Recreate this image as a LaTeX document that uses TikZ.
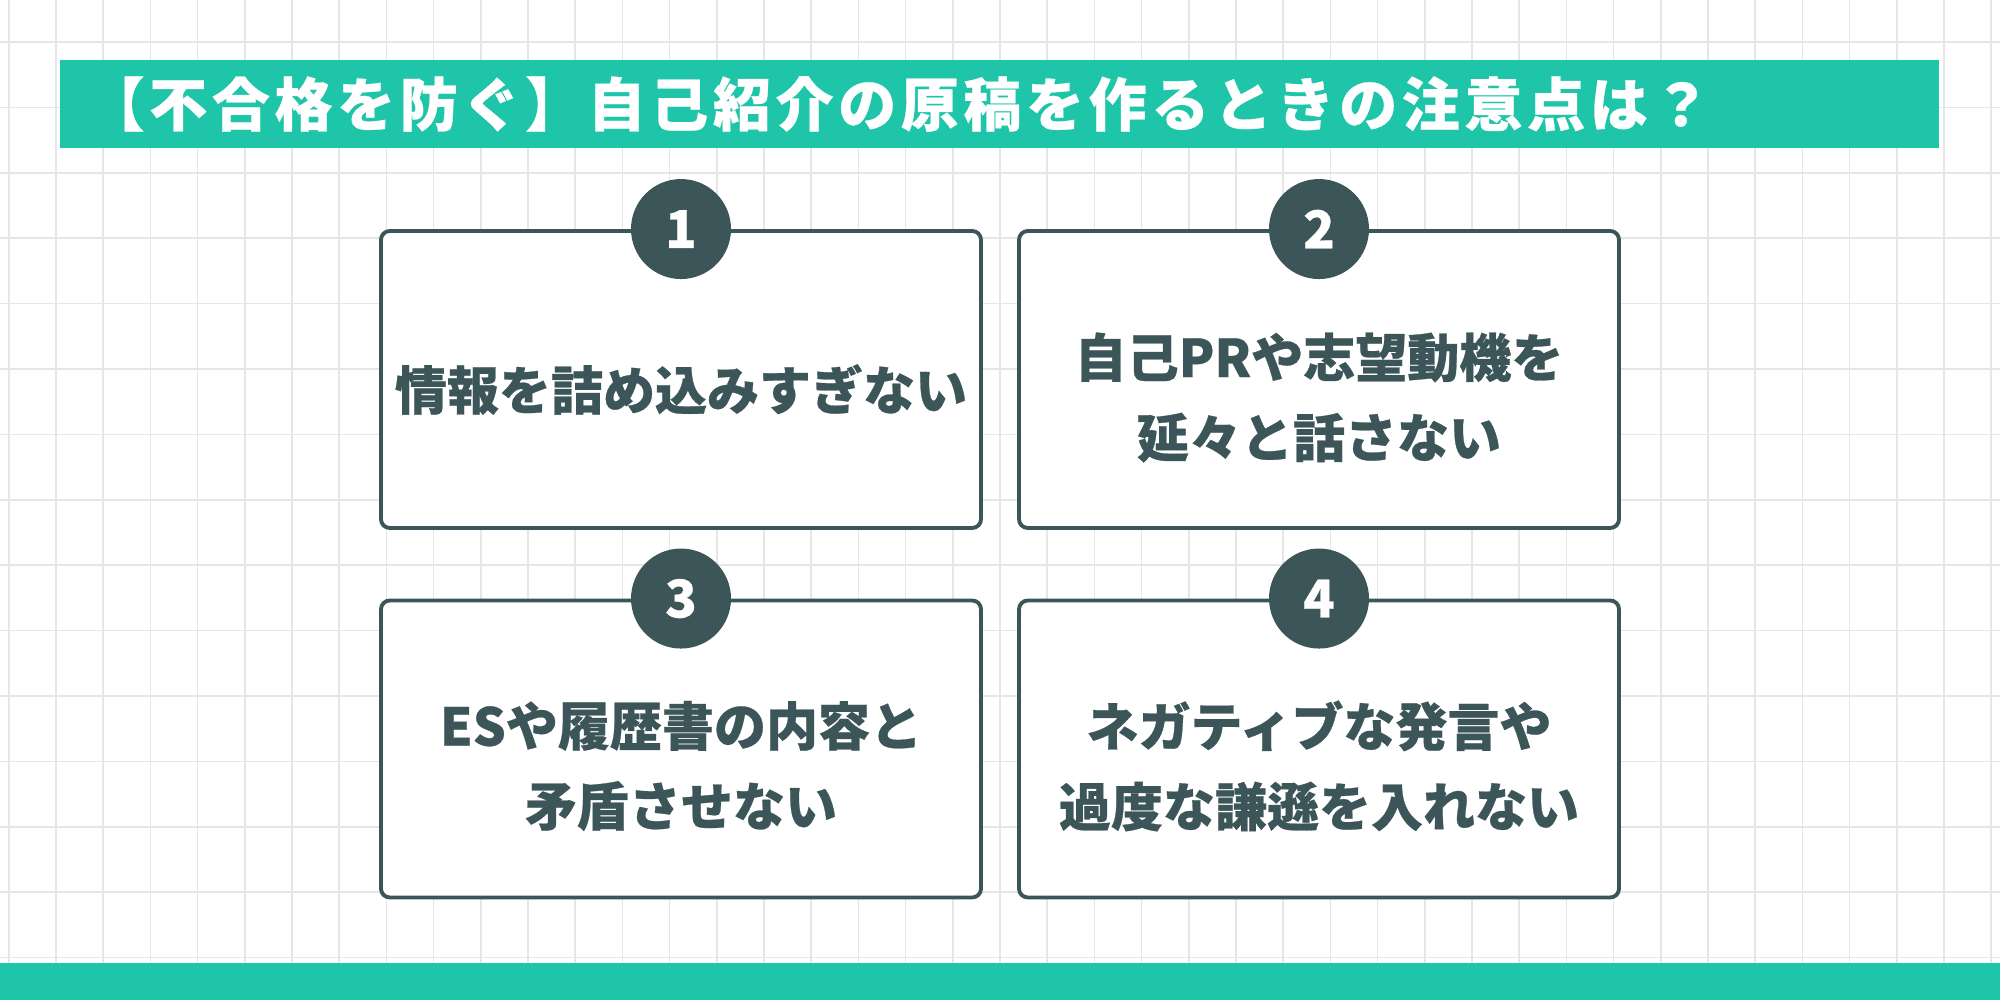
\documentclass[tikz,border=0pt]{standalone}
\usepackage{fontspec}
\newfontfamily\jpfont{Noto Sans CJK JP}[FakeBold=0.5]
\newfontfamily\jptitle{Noto Sans CJK JP}[LetterSpace=8, FakeBold=0.5]
\usetikzlibrary{positioning}
\definecolor{mint}{HTML}{1EC5A8}
\definecolor{slate}{HTML}{3C5558}
\definecolor{paperline}{HTML}{E5E7E7}

\begin{document}
\begin{tikzpicture}[
  card/.style={rectangle, rounded corners=2.5pt, draw=slate, line width=1.1pt,
               fill=white, minimum width=6cm, minimum height=2.97cm},
  badge/.style={circle, fill=slate, minimum size=1cm, inner sep=0pt,
                text=white, font=\jpfont\bfseries\fontsize{14.8pt}{16pt}\selectfont},
  note/.style={align=center, text=slate,
               font=\jpfont\bfseries\fontsize{14.8pt}{22.8pt}\selectfont},
  gridline/.style={paperline, line width=0.45pt},
]
  \useasboundingbox (0,0) rectangle (20,10);
  \fill[white] (0,0) rectangle (20,10);

  % graph paper
  \foreach \k in {-1,...,41}
    \draw[gridline] ({0.56+0.472*\k},0) -- ({0.56+0.472*\k},10);
  \foreach \k in {0,...,14}
    \draw[gridline] (0,{9.58-0.654*\k}) -- (20,{9.58-0.654*\k});

  % header and footer bands
  \fill[mint] (0.60,8.52) rectangle (19.39,9.40);
  \fill[mint] (0,0) rectangle (20,0.37);
  \node[anchor=west, text=white, inner sep=0pt,
        font=\jptitle\bfseries\fontsize{16.5pt}{18pt}\selectfont] (title) at (0.86,8.96)
    {【不合格を防ぐ】自己紹介の原稿を作るときの注意点は？};

  % the four cards
  \node[card] (card1) at (6.81,6.205) {};
  \node[card] (card2) at (13.19,6.205) {};
  \node[card] (card3) at (6.81,2.51) {};
  \node[card] (card4) at (13.19,2.51) {};

  \node[badge] (b1) at (card1.north) {1};
  \node[badge] (b2) at (card2.north) {2};
  \node[badge] (b3) at (card3.north) {3};
  \node[badge] (b4) at (card4.north) {4};

  \node[note] (n1) at ([yshift=-0.10cm]card1.center) {情報を詰め込みすぎない};
  \node[note] (n2) at ([yshift=-0.18cm]card2.center) {自己PRや志望動機を\\延々と話さない};
  \node[note] (n3) at ([yshift=-0.17cm]card3.center) {ESや履歴書の内容と\\矛盾させない};
  \node[note] (n4) at ([yshift=-0.17cm]card4.center) {ネガティブな発言や\\過度な謙遜を入れない};
\end{tikzpicture}
\end{document}
